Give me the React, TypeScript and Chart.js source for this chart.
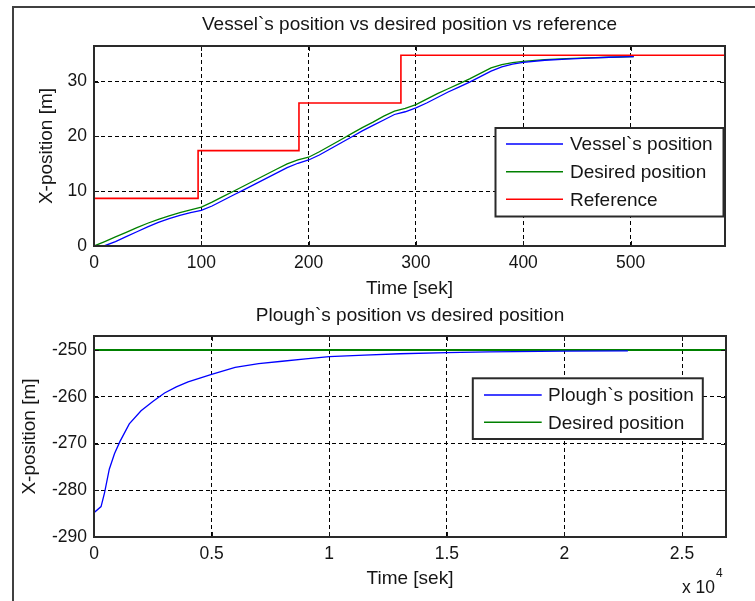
import React, { useEffect, useRef } from 'react';
import { Chart, registerables } from 'chart.js';

Chart.register(...registerables);

const FONT = '"Liberation Sans", Arial, sans-serif';
const TEXT = '#151515';
const TICK_SIZE = 17.5;
const LABEL_SIZE = 19;

// ---------- Top plot data ----------
const vesselTime = [0, 10, 20, 30, 40, 50, 60, 70, 80, 90, 100, 110, 120, 130, 140, 150, 160, 170, 180, 190, 200, 210, 220, 230, 240, 250, 260, 270, 280, 290, 300, 310, 320, 330, 340, 350, 360, 370, 380, 390, 400, 420, 440, 460, 480, 503];
const vesselPos = [0, 0.05, 0.8, 1.7, 2.6, 3.5, 4.3, 5.0, 5.6, 6.1, 6.5, 7.3, 8.3, 9.3, 10.3, 11.3, 12.3, 13.3, 14.3, 15.1, 15.7, 16.6, 17.7, 18.8, 19.9, 21.0, 22.0, 23.0, 24.0, 24.5, 25.2, 26.1, 27.1, 28.1, 29.0, 29.9, 30.9, 31.9, 32.7, 33.2, 33.5, 33.9, 34.1, 34.3, 34.45, 34.55];
const desiredPos = [0, 0.8, 1.65, 2.5, 3.35, 4.15, 4.85, 5.5, 6.1, 6.6, 7.1, 8.0, 9.0, 10.0, 11.0, 12.0, 13.0, 14.0, 15.0, 15.7, 16.2, 17.2, 18.3, 19.4, 20.5, 21.6, 22.6, 23.7, 24.6, 25.1, 25.8, 26.8, 27.8, 28.7, 29.6, 30.5, 31.5, 32.5, 33.1, 33.45, 33.7, 34.0, 34.2, 34.35, 34.45, 34.55];
const refTime = [0, 97, 191, 286, 588];
const refPos = [8.7, 17.4, 26.1, 34.8, 34.8];
const topXTicks = [0, 100, 200, 300, 400, 500];
const topYTicks = [0, 10, 20, 30];

// ---------- Bottom plot data ----------
const ploughTime = [0, 300, 450, 650, 870, 1100, 1500, 2000, 2500, 3000, 3500, 4000, 4500, 5000, 6000, 7000, 8000, 9000, 10000, 11500, 13000, 15000, 16800, 20000, 22700];
const ploughPos = [-284.8, -283.5, -280.5, -275.5, -272.2, -269.6, -265.8, -263.0, -261.0, -259.2, -257.9, -256.8, -256.0, -255.2, -253.7, -252.9, -252.4, -251.9, -251.4, -251.1, -250.8, -250.55, -250.4, -250.25, -250.2];
const ploughDesiredTime = [0, 26870];
const ploughDesiredPos = [-250, -250];
const bottomXTicks = [0, 5000, 10000, 15000, 20000, 25000];
const bottomYTicks = [-290, -280, -270, -260, -250];

const zip = (xs: number[], ys: number[]) => xs.map((x, i) => ({ x, y: ys[i] }));

const matlabPlugin = {
  id: 'matlabBox',
  afterDraw(chart: any, _args: any, opts: any) {
    const ctx = chart.ctx;
    const { left, right, top, bottom } = chart.chartArea;
    ctx.save();
    // inward tick marks
    ctx.strokeStyle = '#111';
    ctx.lineWidth = 1;
    ctx.setLineDash([]);
    const tl = 5;
    chart.scales.x.ticks.forEach((t: any) => {
      const px = Math.round(chart.scales.x.getPixelForValue(t.value)) + 0.5;
      ctx.beginPath();
      ctx.moveTo(px, bottom); ctx.lineTo(px, bottom - tl);
      ctx.moveTo(px, top); ctx.lineTo(px, top + tl);
      ctx.stroke();
    });
    chart.scales.y.ticks.forEach((t: any) => {
      const py = Math.round(chart.scales.y.getPixelForValue(t.value)) + 0.5;
      ctx.beginPath();
      ctx.moveTo(left, py); ctx.lineTo(left + tl, py);
      ctx.moveTo(right, py); ctx.lineTo(right - tl, py);
      ctx.stroke();
    });
    // axes box
    ctx.strokeStyle = '#2a2a2a';
    ctx.lineWidth = 2;
    ctx.strokeRect(left, top, right - left, bottom - top);

    // legend
    const lg = opts.legend;
    if (lg) {
      ctx.fillStyle = '#fff';
      ctx.fillRect(lg.x, lg.y, lg.w, lg.h);
      ctx.strokeStyle = '#2a2a2a';
      ctx.lineWidth = 2;
      ctx.strokeRect(lg.x, lg.y, lg.w, lg.h);
      ctx.font = `${LABEL_SIZE}px ${FONT}`;
      ctx.textBaseline = 'middle';
      ctx.textAlign = 'left';
      chart.data.datasets.forEach((ds: any, i: number) => {
        const y = lg.rowY[i];
        ctx.strokeStyle = ds.borderColor;
        ctx.lineWidth = 1.5;
        ctx.beginPath();
        ctx.moveTo(lg.lineX0, y);
        ctx.lineTo(lg.lineX1, y);
        ctx.stroke();
        ctx.fillStyle = TEXT;
        ctx.fillText(ds.label, lg.textX, y + 1);
      });
    }
    // exponent label
    const ex = opts.exponent;
    if (ex) {
      ctx.fillStyle = TEXT;
      ctx.textBaseline = 'middle';
      ctx.textAlign = 'left';
      ctx.font = `${TICK_SIZE}px ${FONT}`;
      const base = 'x 10';
      ctx.fillText(base, ex.x, ex.y);
      const w = ctx.measureText(base).width;
      ctx.font = `12px ${FONT}`;
      ctx.fillText('4', ex.x + w + 1, ex.y - 14);
    }
    ctx.restore();
  },
};

function makeScales(p: any) {
  const tickFont = { family: FONT, size: TICK_SIZE };
  const titleFont = { family: FONT, size: LABEL_SIZE };
  return {
    x: {
      type: 'linear',
      min: p.xMin,
      max: p.xMax,
      afterBuildTicks: (s: any) => { s.ticks = p.xTicks.map((v: number) => ({ value: v })); },
      afterFit: (s: any) => { s.height = p.xHeight; },
      grid: { color: '#000', lineWidth: 1, drawTicks: false },
      border: { display: false, dash: [4, 3] },
      ticks: { padding: 7, font: tickFont, color: TEXT, maxRotation: 0, autoSkip: false, callback: p.xFmt },
      title: { display: true, text: 'Time [sek]', font: titleFont, color: TEXT, padding: { top: 0, bottom: p.xTitlePad } },
    },
    y: {
      type: 'linear',
      min: p.yMin,
      max: p.yMax,
      afterBuildTicks: (s: any) => { s.ticks = p.yTicks.map((v: number) => ({ value: v })); },
      afterFit: (s: any) => { s.width = p.yWidth; },
      grid: { color: '#000', lineWidth: 1, drawTicks: false },
      border: { display: false, dash: [4, 3] },
      ticks: { padding: 7, font: tickFont, color: TEXT, callback: (v: number) => String(v) },
      title: { display: true, text: 'X-position [m]', font: titleFont, color: TEXT, padding: { top: p.yTitlePad, bottom: 0 } },
    },
  };
}

function topConfig(): any {
  return {
    type: 'line',
    data: {
      datasets: [
        { label: 'Vessel`s position', data: zip(vesselTime, vesselPos), borderColor: '#0000ff', borderWidth: 1.3 },
        { label: 'Desired position', data: zip(vesselTime, desiredPos), borderColor: '#008000', borderWidth: 1.3 },
        { label: 'Reference', data: zip(refTime, refPos), borderColor: '#ff0000', borderWidth: 1.6, stepped: 'before' },
      ],
    },
    options: {
      animation: false,
      responsive: false,
      layout: { padding: { left: 0, right: 30, top: 0, bottom: 0 } },
      elements: { point: { radius: 0 }, line: { tension: 0 } },
      plugins: {
        legend: { display: false },
        tooltip: { enabled: false },
        title: {
          display: true,
          fullSize: false,
          text: 'Vessel`s position vs desired position vs reference',
          font: { family: FONT, size: LABEL_SIZE, weight: 'normal' },
          color: TEXT,
          padding: { top: 4.6, bottom: 9.6 },
        },
        matlabBox: {
          legend: { x: 481.5, y: 119, w: 228, h: 88.5, rowY: [135, 162.7, 190.3], lineX0: 492, lineX1: 549, textX: 556 },
        },
      },
      scales: makeScales({
        xMin: 0, xMax: 588, xTicks: topXTicks, xHeight: 59, xTitlePad: 4.6, xFmt: (v: number) => String(v),
        yMin: 0, yMax: 36.5, yTicks: topYTicks, yWidth: 80, yTitlePad: 21.6,
      }),
    },
    plugins: [matlabPlugin],
  };
}

function bottomConfig(): any {
  return {
    type: 'line',
    data: {
      datasets: [
        { label: 'Plough`s position', data: zip(ploughTime, ploughPos), borderColor: '#0000ff', borderWidth: 1.3 },
        { label: 'Desired position', data: zip(ploughDesiredTime, ploughDesiredPos), borderColor: '#008000', borderWidth: 2 },
      ],
    },
    options: {
      animation: false,
      responsive: false,
      layout: { padding: { left: 0, right: 29, top: 0, bottom: 0 } },
      elements: { point: { radius: 0 }, line: { tension: 0 } },
      plugins: {
        legend: { display: false },
        tooltip: { enabled: false },
        title: {
          display: true,
          fullSize: false,
          text: 'Plough`s position vs desired position',
          font: { family: FONT, size: LABEL_SIZE, weight: 'normal' },
          color: TEXT,
          padding: { top: 6.1, bottom: 9.1 },
        },
        matlabBox: {
          legend: { x: 458.8, y: 80.3, w: 230, h: 60.7, rowY: [97, 124.3], lineX0: 470, lineX1: 527.7, textX: 534 },
          exponent: { x: 668, y: 290 },
        },
      },
      scales: makeScales({
        xMin: 0, xMax: 26870, xTicks: bottomXTicks, xHeight: 64, xTitlePad: 10.6, xFmt: (v: number) => String(v / 10000),
        yMin: -290, yMax: -247, yTicks: bottomYTicks, yWidth: 80, yTitlePad: 4.6,
      }),
    },
    plugins: [matlabPlugin],
  };
}

function ChartBox({ make, left, top, width, height }: any) {
  const ref = useRef<HTMLCanvasElement>(null);
  useEffect(() => {
    const chart = new Chart(ref.current as HTMLCanvasElement, make());
    return () => chart.destroy();
  }, []);
  return (
    <canvas
      ref={ref}
      width={width}
      height={height}
      style={{ position: 'absolute', left, top, width, height }}
    />
  );
}

export default function App() {
  return (
    <div style={{ position: 'absolute', left: 0, top: 0, width: 755, height: 601, overflow: 'hidden', background: '#fff' }}>
      <div
        style={{
          position: 'absolute', left: 12, top: 6, width: 760, height: 610,
          borderLeft: '2px solid #404040', borderTop: '2px solid #404040',
        }}
      />
      <ChartBox make={topConfig} left={14} top={9} width={741} height={296} />
      <ChartBox make={bottomConfig} left={14} top={298} width={741} height={303} />
    </div>
  );
}
